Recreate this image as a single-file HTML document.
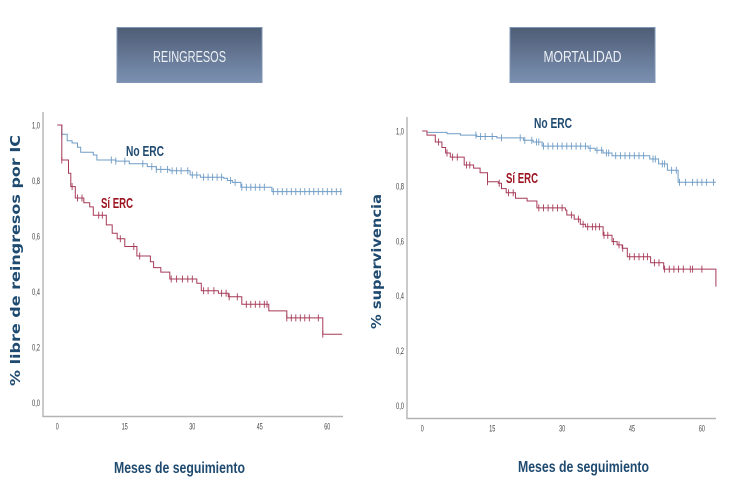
<!DOCTYPE html>
<html lang="es">
<head>
<meta charset="utf-8">
<title>Reingresos y mortalidad</title>
<style>
html,body{margin:0;padding:0;background:#fff;width:750px;height:500px;overflow:hidden}
svg{display:block}
text{font-family:"Liberation Sans",sans-serif}
.narrow{font-family:"Liberation Sans Narrow","Liberation Sans",sans-serif}
.tick{font-size:9.5px;fill:#444}
.ytitle{font-family:"DejaVu Sans","Liberation Sans",sans-serif;font-size:13.5px;font-weight:bold;fill:#1f4a70}
.xtitle{font-size:16px;font-weight:bold;fill:#1f4a70}
.lab{font-size:15px;font-weight:bold}
.box{font-size:16px;fill:#eef2f7}
</style>
</head>
<body>
<svg id="chart" width="750" height="500" viewBox="0 0 750 500" xmlns="http://www.w3.org/2000/svg">
  <defs>
    <linearGradient id="boxGrad" x1="0" y1="0" x2="0" y2="1">
      <stop offset="0" stop-color="#4e5d76"/>
      <stop offset="1" stop-color="#7b90b1"/>
    </linearGradient>
    <filter id="soft" x="-5%" y="-5%" width="110%" height="110%"><feGaussianBlur stdDeviation="0.2"/></filter>
  </defs>
  <rect x="0" y="0" width="750" height="500" fill="#fff"/>

  <g>
    <rect x="117" y="27.5" width="145" height="55" fill="url(#boxGrad)" stroke="#7f95b5" stroke-width="1"/>
    <text class="box narrow" x="189.5" y="62" text-anchor="middle" textLength="73" lengthAdjust="spacingAndGlyphs">REINGRESOS</text>
  </g>
  <g>
    <rect x="510" y="27.5" width="145" height="55" fill="url(#boxGrad)" stroke="#7f95b5" stroke-width="1"/>
    <text class="box narrow" x="582.5" y="62" text-anchor="middle" textLength="78" lengthAdjust="spacingAndGlyphs">MORTALIDAD</text>
  </g>

  <g id="left-panel"></g>
  <g id="right-panel"></g>

  <text class="ytitle" transform="translate(20,386) rotate(-90)" textLength="251" lengthAdjust="spacingAndGlyphs">% libre de reingresos por IC</text>
  <text class="ytitle" transform="translate(381,329) rotate(-90)" textLength="135" lengthAdjust="spacingAndGlyphs">% supervivencia</text>
  <text class="xtitle narrow" x="114" y="473" textLength="131" lengthAdjust="spacingAndGlyphs">Meses de seguimiento</text>
  <text class="xtitle narrow" x="518" y="472" textLength="131" lengthAdjust="spacingAndGlyphs">Meses de seguimiento</text>

  <text class="lab narrow" x="126" y="156" fill="#1f4a70" textLength="38" lengthAdjust="spacingAndGlyphs">No ERC</text>
  <text class="lab narrow" x="101" y="208" fill="#9c1420" textLength="32" lengthAdjust="spacingAndGlyphs">Sí ERC</text>
  <text class="lab narrow" x="534" y="128" fill="#1f4a70" textLength="38" lengthAdjust="spacingAndGlyphs">No ERC</text>
  <text class="lab narrow" x="506" y="183" fill="#9c1420" textLength="32" lengthAdjust="spacingAndGlyphs">Sí ERC</text>
</svg>

<script>
// Shared tick labels
const monthTicks = [0, 15, 30, 45, 60];
const survivalTicks = [0, 0.2, 0.4, 0.6, 0.8, 1.0];

// Reingresos: No ERC
const reinNoTimes = [0, 1, 2.2, 3.3, 4.5, 5.2, 8, 8.8, 13, 16, 20, 22, 25, 29.5, 31.8, 37, 37.8, 38.9, 40.8, 47.7];
const reinNoSurv = [1, 0.967, 0.943, 0.935, 0.92, 0.902, 0.892, 0.874, 0.87, 0.86, 0.85, 0.84, 0.835, 0.82, 0.812, 0.808, 0.8, 0.793, 0.776, 0.76];
const reinNoCensor = [1, 12, 13, 15, 19, 21, 22, 23, 24.5, 25.5, 26.5, 27.5, 29, 30, 31, 32.5, 33.5, 34.5, 35.5, 36.5, 38.5, 39.5, 41, 42, 43, 44, 45, 46, 48, 49, 50, 51, 52, 53, 54, 55, 56, 57, 58, 59, 60, 61, 62, 63];
const reinEnd = 63.3;

// Reingresos: Si ERC
const reinSiTimes = [0, 1, 2.5, 3, 4, 5.9, 7.2, 8, 10.9, 12.2, 13.3, 15, 17.7, 20.7, 21.4, 23, 25, 31, 32, 35.8, 38, 41, 47, 51, 59];
const reinSiSurv = [1, 0.874, 0.826, 0.778, 0.737, 0.72, 0.705, 0.675, 0.64, 0.61, 0.59, 0.562, 0.528, 0.507, 0.486, 0.47, 0.445, 0.43, 0.403, 0.394, 0.381, 0.354, 0.33, 0.305, 0.246];
const reinSiCensor = [1, 3.3, 4.5, 5.5, 9.2, 10, 14, 17, 18.3, 25.3, 26.5, 27.8, 29, 30, 32.5, 33.5, 34.8, 36.5, 37.5, 38.2, 40, 42, 43, 44, 45, 46, 46.6, 51, 52, 53, 54, 55, 56, 58, 59];

// Mortalidad: No ERC
const mortNoTimes = [0, 1, 5.3, 8.2, 11.7, 16, 21.7, 23.8, 25.7, 35.6, 37.1, 38.8, 40.7, 48.8, 50.7, 52.6, 54.9];
const mortNoSurv = [1, 0.995, 0.99, 0.985, 0.98, 0.975, 0.966, 0.96, 0.945, 0.937, 0.93, 0.92, 0.91, 0.898, 0.88, 0.857, 0.813];
const mortNoCensor = [11.5, 12.5, 13.5, 15, 17, 21, 22, 23.5, 24.5, 25, 26, 27, 28, 29, 30, 31, 32, 33, 34, 35, 36, 37.5, 38.5, 39.5, 40, 41.5, 42.5, 43.5, 44.5, 45.5, 46.5, 47.5, 49.5, 50, 51.5, 52, 53.5, 54.5, 55.2, 56.5, 58, 59, 60, 61, 62.5];
const mortEnd = 63;

// Mortalidad: Si ERC
const mortSiTimes = [0, 1, 2.8, 4.2, 5, 6, 9, 11, 12.4, 14, 16.3, 17, 18, 20, 22.5, 24.6, 30.7, 31, 32.6, 33.9, 35, 38.8, 40.7, 41.8, 42.9, 44, 49, 51.8, 63];
const mortSiSurv = [1, 0.985, 0.96, 0.94, 0.92, 0.905, 0.876, 0.865, 0.848, 0.815, 0.81, 0.79, 0.775, 0.755, 0.745, 0.72, 0.712, 0.694, 0.679, 0.66, 0.651, 0.62, 0.597, 0.585, 0.573, 0.542, 0.52, 0.497, 0.433];
const mortSiCensor = [3.5, 5.3, 6.5, 7.5, 9.5, 10.2, 14, 16.5, 18.5, 19.5, 25, 26, 27, 28, 29, 30, 32, 33.5, 34.5, 35.5, 36.5, 37.2, 38, 39, 39.8, 41, 42.2, 43, 44.5, 45.5, 46.5, 47.5, 48.3, 49.8, 50.8, 52, 53, 54, 55, 56, 57.5, 58, 60];

const SVGNS = 'http://www.w3.org/2000/svg';

function make(parent, tag, attrs) {
  const el = document.createElementNS(SVGNS, tag);
  for (const k in attrs) el.setAttribute(k, attrs[k]);
  parent.appendChild(el);
  return el;
}

function survivalAt(times, surv, t) {
  let s = surv[0];
  for (let i = 0; i < times.length; i++) {
    if (times[i] <= t) s = surv[i];
  }
  return s;
}

function drawSeries(g, xScale, yScale, times, surv, censor, end, color, key) {
  let d = 'M' + xScale(times[0]).toFixed(1) + ' ' + yScale(surv[0]).toFixed(1);
  for (let i = 1; i < times.length; i++) {
    d += 'H' + xScale(times[i]).toFixed(1) + 'V' + yScale(surv[i]).toFixed(1);
  }
  d += 'H' + xScale(end).toFixed(1);
  const line = make(g, 'path', { d: d, fill: 'none', stroke: color, 'stroke-width': 1, filter: 'url(#soft)' });
  
  

  censor.forEach(function (t) {
    const x = xScale(t);
    const y = yScale(survivalAt(times, surv, t));
    const mark = make(g, 'path', {
      d: 'M' + x.toFixed(1) + ' ' + (y - 3.5).toFixed(1) + 'v7',
      fill: 'none', stroke: color, 'stroke-width': 0.9
    });
    
    
  });
}

function drawPanel(id, cfg) {
  const g = document.getElementById(id);
  const xScale = function (t) { return cfg.x0 + t * cfg.xPerMonth; };
  const yScale = function (s) { return cfg.y0 - s * cfg.yPerUnit; };

  const axes = make(g, 'path', {
    d: 'M' + cfg.axisX + ' ' + cfg.axisTop + 'V' + cfg.axisY + 'H' + cfg.axisRight,
    fill: 'none', stroke: '#b4b4b4', 'stroke-width': 1.4
  });
  
  

  survivalTicks.forEach(function (v) {
    const t = make(g, 'text', {
      x: cfg.axisX - 11, y: yScale(v) + 3.5, class: 'tick narrow',
      textLength: 8, lengthAdjust: 'spacingAndGlyphs'
    });
    t.textContent = v.toFixed(1).replace('.', ',');
    
    
  });
  monthTicks.forEach(function (m) {
    const label = String(m);
    const w = label.length * 3;
    const t = make(g, 'text', {
      x: xScale(m) - w / 2, y: cfg.axisY + 13, class: 'tick narrow',
      textLength: w, lengthAdjust: 'spacingAndGlyphs'
    });
    t.textContent = label;
    
    
  });

  drawSeries(g, xScale, yScale, cfg.noT, cfg.noS, cfg.noC, cfg.end, '#6f9cc6', 'no-erc');
  drawSeries(g, xScale, yScale, cfg.siT, cfg.siS, cfg.siC, cfg.end, '#a63a58', 'si-erc');
}

drawPanel('left-panel', {
  x0: 57.3, xPerMonth: 4.5, y0: 402.5, yPerUnit: 277.5,
  axisX: 43, axisTop: 112, axisY: 416.5, axisRight: 343,
  noT: reinNoTimes, noS: reinNoSurv, noC: reinNoCensor,
  siT: reinSiTimes, siS: reinSiSurv, siC: reinSiCensor, end: reinEnd
});
drawPanel('right-panel', {
  x0: 422.3, xPerMonth: 4.66, y0: 405.5, yPerUnit: 274.5,
  axisX: 407, axisTop: 117, axisY: 418.5, axisRight: 716,
  noT: mortNoTimes, noS: mortNoSurv, noC: mortNoCensor,
  siT: mortSiTimes, siS: mortSiSurv, siC: mortSiCensor, end: mortEnd
});
</script>
</body>
</html>
